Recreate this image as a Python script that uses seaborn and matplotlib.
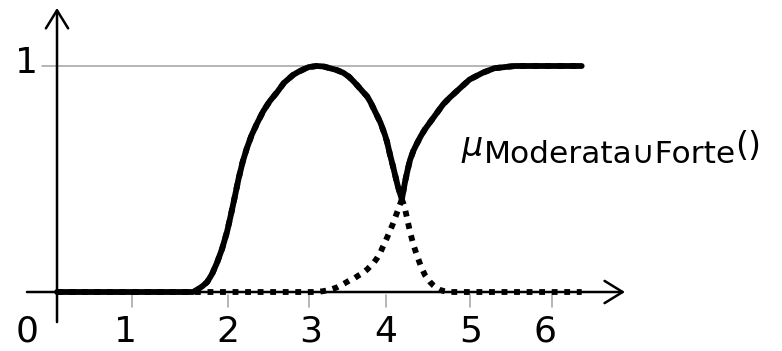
import matplotlib
matplotlib.use("Agg")
import pandas as pd
import matplotlib.pyplot as plt
import seaborn as sns

# Membership degrees sampled along the universe of discourse
x_vals = [0.00, 1.65, 1.70, 1.76, 1.82, 1.88, 1.94, 2.00, 2.06, 2.11, 2.16,
          2.20, 2.25, 2.30, 2.36, 2.43, 2.50, 2.58, 2.67, 2.75, 2.86, 2.93,
          3.00, 3.05, 3.15, 3.23, 3.31, 3.39, 3.47, 3.54, 3.60, 3.65, 3.71,
          3.76, 3.80, 3.84, 3.88, 3.92, 3.95, 3.975, 4.00, 4.035, 4.07, 4.10,
          4.13, 4.155, 4.18, 4.20, 4.22, 4.25, 4.28, 4.32, 4.36, 4.41, 4.46,
          4.52, 4.56, 4.60, 4.64, 4.68, 4.72, 4.76, 4.82, 4.88, 4.94, 5.00,
          5.08, 5.16, 5.23, 5.30, 5.42, 5.55, 5.80, 6.36]
moderata = [0.000, 0.000, 0.010, 0.025, 0.044, 0.080, 0.130, 0.190, 0.265,
            0.345, 0.430, 0.500, 0.575, 0.635, 0.695, 0.750, 0.800, 0.845,
            0.885, 0.925, 0.960, 0.975, 0.987, 0.995, 1.000, 0.998, 0.990,
            0.982, 0.970, 0.952, 0.930, 0.910, 0.885, 0.865, 0.840, 0.810,
            0.780, 0.750, 0.720, 0.695, 0.665, 0.610, 0.560, 0.515, 0.470,
            0.440, 0.410, 0.390, 0.365, 0.315, 0.265, 0.210, 0.165, 0.115,
            0.075, 0.045, 0.030, 0.018, 0.010, 0.005, 0.002, 0.000, 0.000,
            0.000, 0.000, 0.000, 0.000, 0.000, 0.000, 0.000, 0.000, 0.000,
            0.000, 0.000]
forte = [0.000, 0.000, 0.000, 0.000, 0.000, 0.000, 0.000, 0.000, 0.000,
         0.000, 0.000, 0.000, 0.000, 0.000, 0.000, 0.000, 0.000, 0.000,
         0.000, 0.000, 0.000, 0.000, 0.000, 0.000, 0.000, 0.004, 0.010,
         0.020, 0.035, 0.050, 0.060, 0.072, 0.085, 0.100, 0.115, 0.130,
         0.150, 0.175, 0.200, 0.220, 0.240, 0.270, 0.300, 0.330, 0.360,
         0.385, 0.410, 0.450, 0.490, 0.540, 0.585, 0.625, 0.655, 0.690,
         0.720, 0.750, 0.770, 0.790, 0.810, 0.830, 0.845, 0.860, 0.880,
         0.900, 0.920, 0.940, 0.955, 0.970, 0.980, 0.990, 0.995, 1.000,
         1.000, 1.000]

tick_labels = ["1", "2", "3", "4", "5", "6"]
tick_pos = [0.91, 2.07, 3.05, 3.99, 5.01, 6.00]
label_pos = [0.83, 2.07, 3.08, 3.98, 5.01, 5.92]

df = pd.DataFrame({"x": x_vals, "Moderata": moderata, "Forte": forte})
df["union"] = df[["Moderata", "Forte"]].max(axis=1)

sns.set_style("white")
plt.rcParams["font.family"] = ["DejaVu Sans"]
plt.rcParams["mathtext.fontset"] = "dejavusans"
plt.rcParams["text.color"] = "black"

fig = plt.figure(figsize=(7.82, 3.51), dpi=100)
ax = fig.add_axes([0, 0, 1, 1])
ax.set_xlim(-0.691, 8.788)
ax.set_ylim(-0.261, 1.292)
ax.axis("off")

# reference level for full membership
ax.plot([-0.18, 6.36], [1, 1], color="#a9a9a9", lw=1.2, zorder=1)

# axes with arrow heads
arrow = dict(arrowstyle="->,head_length=1.3,head_width=0.8", lw=1.8,
             color="black", shrinkA=0, shrinkB=0, mutation_scale=10)
ax.annotate("", xy=(6.885, 0), xytext=(-0.364, 0), arrowprops=arrow, zorder=2)
ax.annotate("", xy=(0, 1.257), xytext=(0, -0.133), arrowprops=arrow, zorder=2)

# tick marks and labels
for p in tick_pos:
    ax.plot([p, p], [-0.013, -0.066], color="#a9a9a9", lw=1.2, zorder=1)
for p, t in zip(label_pos, tick_labels):
    ax.text(p, -0.221, t, ha="center", va="baseline", fontsize=26)
ax.text(-0.364, -0.221, "0", ha="center", va="baseline", fontsize=26)
ax.text(-0.364, 0.969, "1", ha="center", va="baseline", fontsize=26)

# individual fuzzy sets (dotted) and their union (solid)
dots = (0, (1, 1.15))
sns.lineplot(data=df, x="x", y="Moderata", ax=ax, color="black", lw=4.2,
             linestyle=dots, zorder=3)
sns.lineplot(data=df, x="x", y="Forte", ax=ax, color="black", lw=4.2,
             linestyle=dots, zorder=3)
sns.lineplot(data=df, x="x", y="union", ax=ax, color="black", lw=4.2,
             solid_joinstyle="round", zorder=4)

# curve label: mu with subscript set name
t_mu = ax.text(4.90, 0.600, r"$\mu$", ha="left", va="baseline", fontsize=24)
t_sub = ax.annotate("Moderata\u222aForte", xy=(1, 0.571),
                    xycoords=(t_mu, "data"), ha="left", va="baseline",
                    fontsize=22.5)
ax.annotate("()", xy=(1, 0.600), xycoords=(t_sub, "data"), ha="left",
            va="baseline", fontsize=24)

fig.savefig("out.png", dpi=100)
